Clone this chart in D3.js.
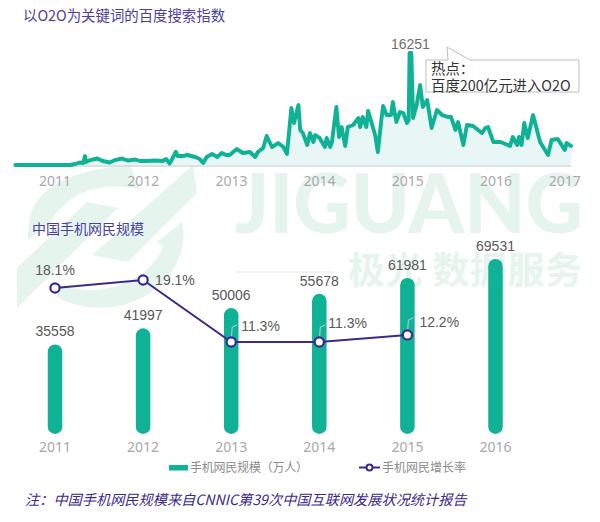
<!DOCTYPE html>
<html><head><meta charset="utf-8">
<script src="https://cdnjs.cloudflare.com/ajax/libs/d3/7.8.5/d3.min.js"></script>
<style>html,body{margin:0;padding:0;background:#fff}svg{display:block}</style>
</head><body><svg id="c" width="600" height="522"></svg>
<script>
const searchYears=[2010.55,2011.17,2011.23,2011.28,2011.32,2011.34,2011.35,2011.40,2011.48,2011.54,2011.62,2011.68,2011.76,2011.83,2011.91,2011.96,2012.03,2012.13,2012.22,2012.26,2012.30,2012.34,2012.37,2012.39,2012.45,2012.50,2012.59,2012.64,2012.68,2012.72,2012.78,2012.84,2012.89,2012.94,2012.98,2013.06,2013.13,2013.21,2013.27,2013.30,2013.36,2013.40,2013.46,2013.53,2013.59,2013.63,2013.68,2013.71,2013.76,2013.78,2013.81,2013.86,2013.89,2013.93,2013.95,2014.00,2014.06,2014.08,2014.12,2014.14,2014.19,2014.22,2014.25,2014.29,2014.32,2014.38,2014.44,2014.46,2014.49,2014.53,2014.55,2014.59,2014.63,2014.66,2014.70,2014.72,2014.76,2014.81,2014.83,2014.87,2014.91,2014.95,2014.99,2015.01,2015.02,2015.04,2015.06,2015.10,2015.14,2015.17,2015.22,2015.27,2015.33,2015.39,2015.46,2015.49,2015.54,2015.57,2015.63,2015.67,2015.74,2015.84,2015.88,2015.91,2015.97,2016.05,2016.16,2016.19,2016.24,2016.26,2016.29,2016.32,2016.36,2016.42,2016.50,2016.59,2016.63,2016.70,2016.78,2016.80,2016.85];
const searchIndex=[0,0,145,360,290,1300,430,720,940,580,360,720,940,650,800,580,580,650,580,870,220,1160,1930,1300,1300,1450,1160,870,290,1160,1600,1160,1740,1450,1450,2320,1740,1890,1160,1890,2470,4210,2610,3190,2610,1600,8270,6090,8700,5080,4640,2900,4640,3340,4350,3920,2610,3920,2610,3340,8410,4060,5510,2760,5510,5800,6820,5510,6960,5510,7830,6090,4350,1890,6530,8560,7250,7250,9140,6240,7690,7540,6090,6530,16251,16251,6820,8700,11600,8410,9430,5370,7980,7250,6960,6960,5080,6240,2900,5800,5660,4640,5370,5510,3340,3340,2760,4060,2900,4060,2900,6090,3920,7250,3340,1450,3630,3770,2180,3190,2760];
const searchTicks=[2011,2012,2013,2014,2015,2016,2016.78];
const searchTickLabels=["2011","2012","2013","2014","2015","2016","2017"];
const peakLabel="16251";
const years=["2011","2012","2013","2014","2015","2016"];
const users=[35558,41997,50006,55678,61981,69531];
const growthYears=["2011","2012","2013","2014","2015"];
const growth=[18.1,19.1,11.3,11.3,12.2];
const titleTop="以O2O为关键词的百度搜索指数";
const titleBottom="中国手机网民规模";
const legendLabels=["手机网民规模（万人）","手机网民增长率"];
const callout=["热点：","百度200亿元进入O2O"];
const note="注：中国手机网民规模来自CNNIC第39次中国互联网发展状况统计报告";

const CJK='"Noto Sans CJK SC","Noto Sans",sans-serif', LAT='"Liberation Sans",Arial,sans-serif', NUM='"Noto Sans",sans-serif';
const GREEN='#0fb294', PURPLE='#3a2a8e', TITLE='#4b3f9e', WM='#e6f4ee';
const svg=d3.select('#c');

// watermark
const wm=svg.append('g');
const wmPaths=["M17,268 L87,202 L118,208 L17,308 Z",
"M28,240 C28,215 33,203 45,192 C65,175 95,168 130,165 L140,190 C125,185 105,186 90,190 C70,196 55,212 50,223 Z",
"M193,165 L92,255 L128,262 L197,193 Z",
"M182,222 C188,250 175,275 150,293 C120,312 85,312 57,297 L57,283 C85,296 120,290 143,273 C152,266 160,256 163,247 L157,242 Z"];
wm.selectAll('path').data(wmPaths).join('path').attr('d',d=>d).attr('fill',WM);
wm.append('text').text('JIGUANG').attr('x',235).attr('y',233).attr('textLength',348).attr('lengthAdjust','spacingAndGlyphs')
 .attr('font-family','Lato').attr('font-weight',900).attr('font-size',82).attr('fill',WM);
wm.append('text').text('极光 数据服务').attr('x',348).attr('y',284).attr('textLength',234)
 .attr('font-family',CJK).attr('font-weight',700).attr('font-size',37).attr('fill',WM);
wm.append('line').attr('x1',235).attr('x2',334).attr('y1',272).attr('y2',272).attr('stroke',WM).attr('stroke-width',1.5);

// top chart
const x=d3.scaleLinear().domain([2011,2016]).range([55,496]);
const y=d3.scaleLinear().domain([0,16251]).range([165,53]);
const pts=searchYears.map((t,i)=>[t,searchIndex[i]]);
svg.append('path').datum(pts).attr('fill','#e8f7f6')
 .attr('d',d3.area().x(d=>x(d[0])).y0(y(0)).y1(d=>y(d[1])));
svg.append('line').attr('x1',x(searchYears[0])).attr('x2',x(2016.85)).attr('y1',y(0)+1).attr('y2',y(0)+1).attr('stroke','#cfd8d8').attr('stroke-width',1.5);
svg.append('path').datum(pts).attr('fill','none').attr('stroke',GREEN).attr('stroke-width',3.9)
 .attr('stroke-linejoin','round').attr('stroke-linecap','round')
 .attr('d',d3.line().x(d=>x(d[0])).y(d=>y(d[1])));
svg.selectAll('.tt').data(searchTicks).join('text').attr('class','tt')
 .attr('x',d=>x(d)).attr('y',186).attr('text-anchor','middle').attr('font-family',NUM).attr('font-size',14).attr('fill','#a9a9a9')
 .text((d,i)=>searchTickLabels[i]);
svg.append('text').text(peakLabel).attr('x',x(2015.03)).attr('y',49).attr('text-anchor','middle').attr('font-family',LAT).attr('font-size',14).attr('fill','#6e6e6e');
svg.append('text').text(titleTop).attr('x',23).attr('y',21).attr('font-family',CJK).attr('font-size',14.4).attr('fill',TITLE);

// callout
svg.append('path').attr('d','M426,60 L448,60 L447,47 L470,60 L579,60 L579,92 L426,92 Z').attr('fill','#fff').attr('stroke','#bdbdbd').attr('stroke-width',1);
svg.selectAll('.co').data(callout).join('text').attr('class','co').text(d=>d)
 .attr('x',431).attr('y',(d,i)=>i?91:74).attr('font-family',CJK).attr('font-size',14.4).attr('fill','#333');

// bottom chart
svg.append('text').text(titleBottom).attr('x',32).attr('y',234).attr('font-family',CJK).attr('font-size',14).attr('fill',TITLE);
const xb=d3.scalePoint().domain(years).range([55,495.5]);
const yb=d3.scaleLinear().domain([0,69531]).range([433.9,259]);
const yg=d3.scaleLinear().domain([0,19.1]).range([432,280]);
const barW=14.5;
svg.selectAll('.bar').data(users).join('rect').attr('class','bar')
 .attr('x',(d,i)=>xb(years[i])-barW/2).attr('width',barW).attr('y',d=>yb(d)).attr('height',d=>yb(0)-yb(d))
 .attr('rx',barW/2).attr('fill',GREEN);
svg.selectAll('.bl').data(users).join('text').attr('class','bl').text(d=>d)
 .attr('x',(d,i)=>xb(years[i])).attr('y',d=>yb(d)-8).attr('text-anchor','middle').attr('font-family',LAT).attr('font-size',14).attr('fill','#595959');
svg.selectAll('.xt').data(years).join('text').attr('class','xt').text(d=>d)
 .attr('x',d=>xb(d)).attr('y',452).attr('text-anchor','middle').attr('font-family',NUM).attr('font-size',14).attr('fill','#a9a9a9');
// leader lines for the labels sitting on bars
growth.forEach((g,i)=>{ if(i<2) return;
  const px=xb(growthYears[i]), py=yg(g);
  svg.append('path').attr('d',`M${px},${py} L${px+1},${py-15} L${px+6},${py-17}`).attr('fill','none').attr('stroke','#c9c9c9').attr('stroke-width',1);
});
svg.append('path').datum(growth).attr('fill','none').attr('stroke',PURPLE).attr('stroke-width',2)
 .attr('d',d3.line().x((d,i)=>xb(growthYears[i])).y(d=>yg(d)));
svg.selectAll('.gp').data(growth).join('circle').attr('class','gp')
 .attr('cx',(d,i)=>xb(growthYears[i])).attr('cy',d=>yg(d)).attr('r',4.6).attr('fill','#fff').attr('stroke',PURPLE).attr('stroke-width',2.2);
const gOff=[[0,-13,'middle'],[12,5,'start'],[10,-11,'start'],[9,-14,'start'],[12,-8,'start']];
svg.selectAll('.gl').data(growth).join('text').attr('class','gl').text(d=>d.toFixed(1)+'%')
 .attr('x',(d,i)=>xb(growthYears[i])+gOff[i][0]).attr('y',(d,i)=>yg(d)+gOff[i][1]).attr('text-anchor',(d,i)=>gOff[i][2])
 .attr('font-family',LAT).attr('font-size',14).attr('fill','#595959');

// legend
svg.append('rect').attr('x',169).attr('y',465).attr('width',19).attr('height',5.5).attr('fill',GREEN);
svg.append('text').text(legendLabels[0]).attr('x',190).attr('y',472).attr('textLength',118).attr('font-family',CJK).attr('font-size',12).attr('fill','#8c8c8c');
svg.append('line').attr('x1',359).attr('x2',380).attr('y1',467.5).attr('y2',467.5).attr('stroke',PURPLE).attr('stroke-width',2);
svg.append('circle').attr('cx',369.5).attr('cy',467.5).attr('r',3).attr('fill','#fff').attr('stroke',PURPLE).attr('stroke-width',2);
svg.append('text').text(legendLabels[1]).attr('x',382).attr('y',472).attr('font-family',CJK).attr('font-size',12).attr('fill','#8c8c8c');
svg.append('text').text(note).attr('x',25).attr('y',505).attr('font-family',CJK).attr('font-style','italic').attr('font-size',14.2).attr('fill',PURPLE);
</script></body></html>
